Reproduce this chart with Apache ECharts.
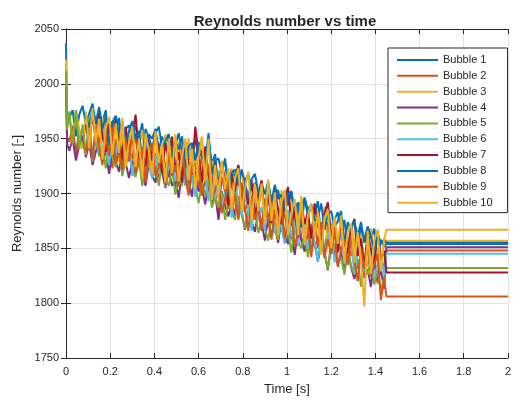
<!DOCTYPE html>
<html>
<head>
<meta charset="utf-8">
<script src="https://cdn.jsdelivr.net/npm/echarts@6/dist/echarts.min.js"></script>
<style>html,body{margin:0;padding:0;background:#fff}#c{width:514px;height:401px}</style>
</head>
<body>
<div id="c"></div>
<script>
// Time samples of the noisy part [s]
const times = [0,0.005,0.015,0.03,0.045,0.06,0.075,0.09,0.105,0.12,0.135,0.15,0.165,0.18,0.195,0.21,0.225,0.24,0.255,0.27,0.285,0.3,0.315,0.33,0.345,0.36,0.375,0.39,0.405,0.42,0.435,0.45,0.465,0.48,0.495,0.51,0.525,0.54,0.555,0.57,0.585,0.6,0.615,0.63,0.645,0.66,0.675,0.69,0.705,0.72,0.735,0.75,0.765,0.78,0.795,0.81,0.825,0.84,0.855,0.87,0.885,0.9,0.915,0.93,0.945,0.96,0.975,0.99,1.005,1.02,1.035,1.05,1.065,1.08,1.095,1.11,1.125,1.14,1.155,1.17,1.185,1.2,1.215,1.23,1.245,1.26,1.275,1.29,1.305,1.32,1.335,1.35,1.365,1.38,1.395,1.41,1.425,1.44];
const tailTimes = [1.45, 2];
const names = ['Bubble 1','Bubble 2','Bubble 3','Bubble 4','Bubble 5','Bubble 6','Bubble 7','Bubble 8','Bubble 9','Bubble 10'];
const colors = ['#0072BD','#D95319','#EDB120','#7E2F8E','#77AC30','#4DBEEE','#A2142F','#0072BD','#D95319','#EDB120'];
const finalValues = [1854,1848,1857,1851,1832,1845,1828,1855,1806,1867];

const bubble1 = [2037,1962,1969,1976,1952,1972,1980,1963,1973,1982,1963,1974,1965,1976,1942,1966,1957,1969,1939,1959,1962,1949,1962,1951,1964,1933,1954,1950,1959,1940,1952,1943,1954,1921,1944,1955,1936,1947,1933,1943,1949,1933,1937,1924,1950,1927,1936,1903,1925,1928,1913,1922,1915,1926,1896,1912,1918,1903,1910,1883,1910,1899,1911,1892,1900,1903,1886,1902,1889,1902,1871,1892,1888,1896,1879,1889,1881,1893,1859,1883,1884,1868,1876,1883,1866,1876,1849,1870,1874,1861,1874,1855,1866,1859,1868,1839,1858,1851];
const bubble2 = [2010,1950,1947,1962,1936,1958,1941,1967,1949,1932,1961,1950,1935,1964,1940,1923,1950,1933,1954,1924,1941,1931,1955,1924,1933,1915,1943,1924,1937,1914,1944,1924,1915,1938,1905,1928,1916,1941,1908,1921,1929,1902,1938,1910,1900,1918,1899,1884,1915,1901,1886,1913,1892,1878,1903,1883,1896,1876,1904,1883,1866,1893,1875,1894,1864,1880,1865,1886,1854,1876,1867,1888,1860,1852,1873,1859,1877,1850,1861,1841,1874,1855,1842,1863,1844,1829,1855,1843,1859,1832,1845,1826,1856,1831,1838,1818,1845,1829];
const bubble3 = [2022,1965,1971,1948,1976,1958,1941,1971,1951,1976,1943,1958,1969,1938,1958,1945,1970,1929,1952,1957,1935,1959,1926,1942,1958,1927,1948,1932,1951,1918,1939,1954,1923,1942,1927,1947,1914,1935,1950,1919,1937,1912,1925,1940,1908,1930,1911,1895,1926,1909,1898,1923,1890,1910,1922,1892,1902,1880,1909,1891,1903,1878,1906,1882,1889,1866,1903,1889,1871,1893,1863,1878,1894,1867,1883,1854,1877,1884,1862,1888,1852,1868,1875,1850,1878,1857,1841,1871,1856,1843,1864,1836,1858,1868,1840,1850,1832,1857];
const bubble4 = [1998,1945,1939,1950,1930,1944,1953,1933,1946,1926,1938,1948,1931,1939,1918,1940,1929,1920,1941,1928,1914,1930,1918,1933,1921,1907,1928,1916,1910,1933,1919,1905,1921,1907,1913,1896,1920,1908,1913,1897,1920,1902,1906,1890,1909,1891,1900,1876,1902,1889,1879,1893,1880,1897,1882,1867,1884,1874,1865,1884,1874,1857,1878,1862,1870,1855,1876,1861,1854,1865,1844,1867,1857,1847,1867,1849,1856,1838,1856,1847,1830,1855,1846,1835,1846,1829,1849,1833,1822,1837,1840,1823,1831,1815,1838,1821,1830,1813];
const bubble5 = [2012,1958,1975,1944,1976,1940,1963,1935,1970,1929,1949,1934,1943,1923,1950,1933,1924,1940,1916,1931,1941,1921,1915,1931,1907,1923,1940,1914,1925,1907,1930,1914,1907,1923,1899,1915,1907,1927,1900,1916,1907,1891,1910,1898,1913,1887,1897,1887,1901,1876,1893,1884,1876,1898,1883,1868,1885,1872,1887,1864,1875,1868,1857,1877,1867,1858,1880,1859,1866,1846,1870,1857,1850,1862,1842,1867,1853,1840,1857,1845,1831,1850,1854,1836,1842,1826,1851,1834,1826,1840,1815,1834,1826,1840,1817,1830,1811,1824];
const bubble6 = [null,null,null,null,null,null,null,1943,1961,1934,1955,1937,1961,1942,1926,1951,1933,1953,1926,1939,1953,1916,1933,1943,1921,1950,1926,1914,1935,1919,1941,1906,1926,1940,1911,1920,1933,1907,1928,1913,1897,1932,1911,1916,1893,1920,1896,1921,1887,1901,1906,1878,1909,1887,1880,1900,1886,1866,1900,1876,1888,1866,1899,1878,1864,1887,1869,1854,1885,1860,1874,1852,1884,1863,1850,1872,1855,1838,1871,1849,1858,1871,1837,1851,1864,1836,1844,1856,1827,1847,1857,1830,1835,1850,1823,1836,1843,1826];
const bubble7 = [null,null,null,null,null,null,null,1963,1945,1972,1949,1974,1952,1938,1964,1941,1970,1950,1930,1961,1939,1953,1972,1932,1940,1925,1953,1930,1955,1940,1919,1946,1930,1952,1920,1938,1910,1946,1929,1917,1961,1936,1910,1943,1918,1902,1929,1906,1929,1912,1889,1918,1902,1926,1889,1908,1890,1912,1878,1899,1912,1881,1901,1873,1904,1885,1872,1896,1906,1871,1885,1860,1893,1872,1883,1859,1891,1871,1858,1882,1892,1858,1872,1846,1878,1857,1845,1868,1877,1843,1859,1832,1865,1849,1836,1866,1839,1848];
const bubble8 = [null,null,null,null,null,null,null,1970,1960,1978,1965,1979,1959,1970,1944,1965,1971,1955,1966,1944,1957,1966,1950,1957,1931,1959,1950,1941,1955,1961,1941,1948,1954,1932,1948,1940,1952,1923,1943,1946,1930,1947,1935,1928,1955,1918,1930,1932,1919,1932,1899,1919,1922,1907,1922,1910,1896,1913,1918,1901,1904,1885,1909,1893,1908,1895,1899,1884,1900,1902,1885,1892,1869,1896,1885,1890,1875,1878,1891,1867,1881,1884,1869,1875,1884,1852,1874,1866,1876,1855,1869,1858,1870,1861,1846,1864,1854,1858];
const bubble9 = [null,null,null,null,null,null,null,1939,1959,1932,1962,1942,1926,1952,1934,1960,1927,1941,1921,1949,1929,1955,1919,1931,1942,1910,1935,1946,1916,1924,1935,1907,1938,1916,1926,1906,1940,1915,1898,1925,1907,1928,1898,1913,1926,1895,1903,1913,1882,1894,1913,1885,1901,1876,1910,1886,1866,1898,1876,1887,1867,1895,1875,1858,1885,1868,1891,1859,1872,1882,1851,1865,1886,1854,1869,1842,1872,1853,1874,1842,1858,1845,1867,1833,1848,1858,1835,1862,1839,1820,1849,1832,1852,1824,1834,1845,1803,1823];
const bubble10 = [null,null,null,null,null,null,null,1975,1941,1978,1947,1968,1931,1960,1970,1935,1964,1937,1969,1924,1947,1961,1924,1950,1915,1955,1939,1918,1957,1928,1946,1910,1950,1919,1954,1911,1934,1950,1912,1941,1904,1933,1952,1911,1950,1894,1926,1898,1930,1904,1923,1885,1914,1923,1884,1905,1920,1875,1907,1884,1909,1872,1913,1875,1901,1862,1892,1903,1862,1883,1895,1862,1898,1853,1880,1891,1860,1883,1844,1878,1885,1850,1879,1854,1880,1838,1865,1873,1837,1865,1839,1797,1866,1827,1857,1867,1829,1858];

const bubbles = [bubble1,bubble2,bubble3,bubble4,bubble5,bubble6,bubble7,bubble8,bubble9,bubble10];

const xTicks = {min: 0, max: 2, interval: 0.2};
const yTicks = {min: 1750, max: 2050, interval: 50};

const FONT = 'Liberation Sans, Arial, Helvetica, sans-serif';
const INK = '#262626';

const series = bubbles.map((arr, i) => {
  const data = [];
  times.forEach((t, j) => { if (arr[j] !== null) data.push([t, arr[j]]); });
  tailTimes.forEach(t => data.push([t, finalValues[i]]));
  return {
    name: names[i], type: 'line', data, symbol: 'none', showSymbol: false, animation: false,
    lineStyle: {width: 2, color: colors[i]}, itemStyle: {color: colors[i]},
    xAxisIndex: 0, yAxisIndex: 0
  };
});

const chart = echarts.init(document.getElementById('c'), null, {renderer: 'canvas'});
chart.setOption({
  animation: false,
  backgroundColor: '#ffffff',
  title: {
    text: 'Reynolds number vs time', left: 280, top: 9, textAlign: 'center',
    textStyle: {fontFamily: FONT, fontSize: 15, fontWeight: 'bold', color: INK}
  },
  grid: {left: 66, right: 1, top: 29, bottom: 41, containLabel: false},
  legend: {
    data: names.map(n => ({name: n, icon: 'rect'})), orient: 'vertical', left: 388, top: 48,
    padding: [6, 15, 4, 9], itemWidth: 41, itemHeight: 2, itemGap: 3.85, itemTextGap: 4,
    backgroundColor: '#ffffff', borderColor: INK, borderWidth: 1, borderRadius: 0,
    textStyle: {fontFamily: FONT, fontSize: 11, color: INK, lineHeight: 12, height: 12}
  },
  xAxis: [{
    type: 'value', ...xTicks, position: 'bottom',
    name: 'Time [s]', nameLocation: 'middle', nameGap: 25,
    nameTextStyle: {fontFamily: FONT, fontSize: 13, color: INK},
    axisLine: {show: true, lineStyle: {color: INK, width: 1}},
    axisTick: {show: true, inside: true, length: 5, lineStyle: {color: INK}},
    axisLabel: {fontFamily: FONT, fontSize: 11, color: INK, margin: 8},
    splitLine: {show: true, lineStyle: {color: '#e2e2e2', width: 1}}
  }, {
    type: 'value', ...xTicks, position: 'top',
    axisLine: {show: true, lineStyle: {color: INK, width: 1}},
    axisTick: {show: true, inside: true, length: 5, lineStyle: {color: INK}},
    axisLabel: {show: false}, splitLine: {show: false}
  }],
  yAxis: [{
    type: 'value', ...yTicks, position: 'left',
    name: 'Reynolds number [-]', nameLocation: 'middle', nameGap: 38, nameRotate: 90,
    nameTextStyle: {fontFamily: FONT, fontSize: 13, color: INK},
    axisLine: {show: true, lineStyle: {color: INK, width: 1}},
    axisTick: {show: true, inside: true, length: 5, lineStyle: {color: INK}},
    axisLabel: {fontFamily: FONT, fontSize: 11, color: INK, margin: 7, formatter: v => String(v)},
    splitLine: {show: true, lineStyle: {color: '#e2e2e2', width: 1}}
  }, {
    type: 'value', ...yTicks, position: 'right',
    axisLine: {show: true, lineStyle: {color: INK, width: 1}},
    axisTick: {show: true, inside: true, length: 5, lineStyle: {color: INK}},
    axisLabel: {show: false}, splitLine: {show: false}
  }],
  series
});
</script>
</body>
</html>
